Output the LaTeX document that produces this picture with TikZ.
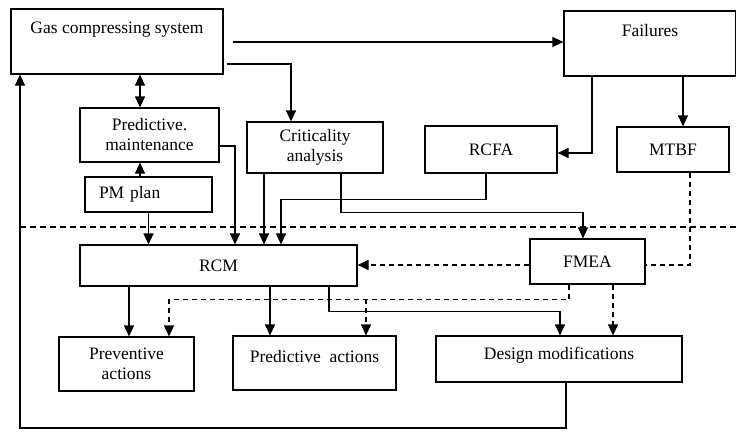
\documentclass[tikz,border=0pt]{standalone}
\usepackage{fontspec}
\setmainfont{Liberation Serif}
\usetikzlibrary{arrows.meta}

\tikzset{
  box/.style={draw, line width=1.2pt, inner sep=0pt, align=center,
    font=\fontsize{17.5}{20}\selectfont},
  tip/.tip={Triangle[length=11pt,width=10pt]},
  arr/.style={line width=1.2pt, -tip},
  link/.style={line width=1.2pt},
  darr/.style={arr, dash pattern=on 5pt off 4pt},
  dlink/.style={link, dash pattern=on 5pt off 4pt}
}

\begin{document}
\begin{tikzpicture}[x=1pt,y=-1pt]
\useasboundingbox (0,0) rectangle (736,432);
\node[box, minimum width=212pt, text height=24pt, text depth=41pt] (gcs) at (117,41.5) {Gas compressing system};
\node[box, minimum width=172pt, text height=25pt, text depth=40pt] (failures) at (650,43.5) {Failures};
\node[box, minimum width=139pt, minimum height=54pt] (pm) at (149.5,135) {Predictive.\\maintenance};
\node[box, minimum height=35pt, text width=99pt, inner xsep=14pt, align=left] (plan) at (148.5,194.5) {PM plan};
\node[box, minimum width=136pt, minimum height=51pt] (crit) at (315,147.5) {Criticality\\analysis};
\node[box, minimum width=132pt, minimum height=47pt] (rcfa) at (491,149.5) {RCFA};
\node[box, minimum width=112pt, minimum height=45pt] (mtbf) at (673,149.5) {MTBF};
\node[box, minimum width=277pt, minimum height=41pt] (rcm) at (218.5,265.5) {RCM};
\node[box, minimum width=115pt, minimum height=45pt] (fmea) at (587.5,261.5) {FMEA};
\node[box, minimum width=135pt, minimum height=54pt] (prev) at (126.5,364) {Preventive\\actions};
\node[box, minimum width=163pt, text height=26pt, text depth=28pt] (predact) at (314.5,363) {Predictive\ \ actions};
\node[box, minimum width=246pt, text height=23pt, text depth=23pt] (design) at (559,359) {Design modifications};

\draw[dlink, dash pattern=on 6pt off 4pt] (20,227) -- (736,227);

\draw[arr] ([xshift=9pt]gcs.east |- 0,42) -- (failures.west |- 0,42);
\draw[link, tip-tip] (gcs.south -| 140,0) -- (pm.north -| 140,0);
\draw[arr] ([xshift=3pt]gcs.east |- 0,64) -| (crit.north -| 291,0);
\draw[arr] (plan.north -| 140,0) -- (pm.south -| 140,0);
\draw[arr] (plan.south) -- (rcm.north -| plan.south);
\draw[arr] (pm.east |- 0,146) -| (rcm.north -| 235,0);
\draw[arr] (crit.south -| 264,0) -- (rcm.north -| 264,0);
\draw[arr] (rcfa.south -| 486,0) -- ++(0,26) -| (rcm.north -| 281,0);
\draw[arr] (crit.south -| 341,0) -- ++(0,39) -| (fmea.north -| 583,0);
\draw[arr] (failures.south -| 592,0) |- (rcfa.east |- 0,153);
\draw[arr] (failures.south -| 683,0) -- (mtbf.north -| 683,0);

\draw[darr] (fmea.west |- 0,265) -- (rcm.east |- 0,265);
\draw[dlink] (mtbf.south -| 690,0) |- (fmea.east |- 0,265);
\draw[darr] (fmea.south -| 569,0) -- ++(0,15) -| (prev.north -| 169,0);
\coordinate (fork) at (366,299);
\draw[darr] (fork) -- (predact.north -| fork);
\draw[darr] (fmea.south -| 613,0) -- (design.north -| 613,0);

\draw[arr] (rcm.south -| 129,0) -- (prev.north -| 129,0);
\draw[arr] (rcm.south -| 270,0) -- (predact.north -| 270,0);
\draw[arr] (rcm.south -| 329,0) -- ++(0,25) -| (design.north -| 560,0);
\draw[arr] (design.south -| 566,0) |- (20,428) -- (gcs.south -| 20,0);
\end{tikzpicture}
\end{document}
